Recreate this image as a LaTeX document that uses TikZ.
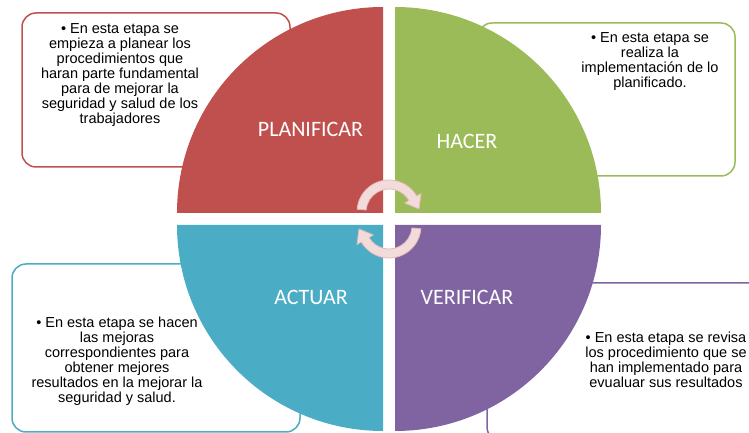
\documentclass[tikz,border=0pt]{standalone}
\usepackage{fontspec}
\setmainfont{Liberation Sans}
\newfontfamily\titlefont{Carlito}
\definecolor{planred}{HTML}{C0504D}
\definecolor{dogreen}{HTML}{9BBB59}
\definecolor{actblue}{HTML}{4BACC6}
\definecolor{checkpurple}{HTML}{8064A2}
\definecolor{arrowfill}{HTML}{F2DCDB}
\definecolor{arrowline}{HTML}{E6B9B8}
\tikzset{
  infobox/.style={fill=white, line width=1.5pt, rounded corners=14pt},
  infotext/.style={inner sep=0pt, align=center, anchor=north,
    font=\fontsize{14.5}{15}\selectfont},
  phase/.style={inner sep=0pt, text=white, font=\titlefont\fontsize{22}{26}\selectfont},
  cyclearrow/.style={fill=arrowfill, draw=arrowline, line width=0.8pt, line join=round}
}
\begin{document}
\begin{tikzpicture}[x=1pt, y=1pt]
          \useasboundingbox (0,0) rectangle (749,433);
          \clip (0,0) rectangle (749,433);

          % Define the four quarters of the circle
          \def\quadP{(383,220) -- ++(0,206) arc[start angle=90, end angle=180, radius=206] -- cycle}
          \def\quadH{(395,220) -- ++(206,0) arc[start angle=0, end angle=90, radius=206] -- cycle}
          \def\quadA{(383,208) -- ++(-206,0) arc[start angle=180, end angle=270, radius=206] -- cycle}
          \def\quadV{(395,208) -- ++(0,-206) arc[start angle=270, end angle=360, radius=206] -- cycle}
          % One curved arrow, around its own centre
          \def\bend{(175:32) arc[start angle=175, end angle=30, radius=32] -- (30:37) -- (30,3)
            -- (30:18) -- (30:23) arc[start angle=30, end angle=175, radius=23] -- cycle}

          % Boxes behind the circle
          \draw[infobox, draw=planred] (22,420) rectangle (290,266);
          \draw[infobox, draw=dogreen] (478,410) rectangle (735,257);
          \draw[infobox, draw=actblue] (12,169) rectangle (300,1);
          \draw[infobox, draw=checkpurple] (487,150) rectangle (775,-8);

          % Fill the quarters
          \fill[planred] \quadP;
          \fill[dogreen] \quadH;
          \fill[actblue] \quadA;
          \fill[checkpurple] \quadV;

          % Arrows in the middle
          \begin{scope}[shift={(389,221)}]
            \draw[cyclearrow] \bend;
          \end{scope}
          \begin{scope}[shift={(389,207)}, rotate=180]
            \draw[cyclearrow] \bend;
          \end{scope}

          % Label the quarters
          \node[phase] (planificar) at (310.5,304) {PLANIFICAR};
          \node[phase] (hacer) at (467,292) {HACER};
          \node[phase] (actuar) at (311,135.5) {ACTUAR};
          \node[phase] (verificar) at (467,135.5) {VERIFICAR};

          % Texts in the boxes
          \node[infotext] (planText) at (120,409.4) {\textbullet{} En esta etapa se\\
            empieza a planear los\\ procedimientos que\\ haran parte fundamental\\
            para de mejorar la\\ seguridad y salud de los\\ trabajadores};
          \node[infotext] (hacerText) at (650,400.4) {\textbullet{} En esta etapa se\\
            realiza la\\ implementación de lo\\ planificado.};
          \node[infotext] (actuarText) at (117,116.4) {\textbullet{} En esta etapa se hacen\\
            las mejoras\\ correspondientes para\\ obtener mejores\\
            resultados en la mejorar la\\ seguridad y salud.};
          \node[infotext] (verifText) at (666,101.4) {\textbullet{} En esta etapa se revisa\\
            los procedimiento que se\\ han implementado para\\ evualuar sus resultados};
        \end{tikzpicture}
\end{document}
